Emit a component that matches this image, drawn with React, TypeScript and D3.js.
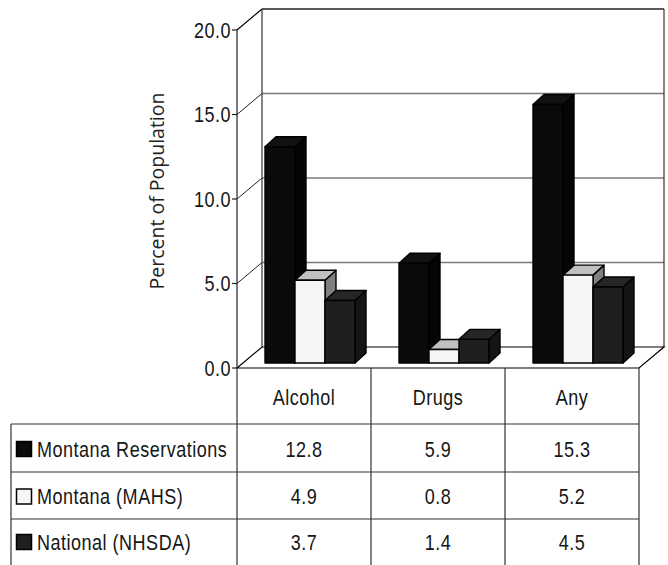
import React from "react";
import * as d3 from "d3";

// Prevalence data (percent of population)
const categories = ["Alcohol", "Drugs", "Any"];
const seriesNames = ["Montana Reservations", "Montana (MAHS)", "National (NHSDA)"];
const reservations = [12.8, 5.9, 15.3];
const mahs = [4.9, 0.8, 5.2];
const nhsda = [3.7, 1.4, 4.5];
const yTicks = [0, 5, 10, 15, 20];

const seriesValues = [reservations, mahs, nhsda];

// Face colours per series: front, top, side
const faceColors = [
  { front: "#0a0a0a", top: "#111", side: "#050505" },
  { front: "#f5f5f5", top: "#c0c0c0", side: "#808080" },
  { front: "#1f1f1f", top: "#262626", side: "#151515" },
];

const W = 668;
const H = 565;
const X0 = 237;
const X1 = 639;
const Y0 = 368;
const YTOP = 30;
const DX = 25; // depth of the plot box
const DY = -21;
const BAR_OFF_X = 6; // bars sit slightly inside the box depth
const BAR_OFF_Y = -5;
const BAR_DX = 11;
const BAR_DY = -10;

const FONT = "'Liberation Sans', Arial, sans-serif";
const FONT_SIZE = 22;
const SQUEEZE = 0.82; // horizontal condensing of the label font

const rowLines = [424, 472, 519];
const TABLE_LEFT = 11;

function pts(p: [number, number][]) {
  return p.map((d) => d.join(",")).join(" ");
}

type CTextProps = {
  x: number;
  y: number;
  anchor?: "start" | "middle" | "end";
  children: React.ReactNode;
};

// Condensed label: regular sans squeezed horizontally
function CText({ x, y, anchor = "start", children }: CTextProps) {
  return (
    <text
      transform={`translate(${x},${y}) scale(${SQUEEZE},1)`}
      textAnchor={anchor}
      dominantBaseline="central"
      fontFamily={FONT}
      fontSize={FONT_SIZE}
      letterSpacing={0.6}
      fill="#161616"
    >
      {children}
    </text>
  );
}

export default function App() {
  const y = d3.scaleLinear().domain([0, 20]).range([Y0, YTOP]);
  const xCat = d3.scaleBand<string>().domain(categories).range([X0, X1]).padding(0);
  const groupW = 90;
  const xSeries = d3
    .scaleBand<number>()
    .domain([0, 1, 2])
    .range([0, groupW])
    .padding(0);

  const bw = xCat.bandwidth();
  const colEdges = [...categories.map((c) => xCat(c)!), X1];

  const rowCenters = [0, 1, 2].map((i) =>
    i < 2 ? (rowLines[i] + rowLines[i + 1]) / 2 : (rowLines[2] + H) / 2 - 1
  );

  const bars: React.ReactNode[] = [];
  categories.forEach((cat, ci) => {
    seriesValues.forEach((vals, si) => {
      const v = vals[ci];
      const x = xCat(cat)! + (bw - groupW) / 2 + xSeries(si)! + BAR_OFF_X;
      const w = xSeries.bandwidth();
      const yb = Y0 + BAR_OFF_Y;
      const yt = y(v) + BAR_OFF_Y;
      const c = faceColors[si];
      bars.push(
        <g key={`${ci}-${si}`} stroke="#000" strokeWidth={1.4} strokeLinejoin="round">
          <polygon
            points={pts([
              [x + w, yb],
              [x + w + BAR_DX, yb + BAR_DY],
              [x + w + BAR_DX, yt + BAR_DY],
              [x + w, yt],
            ])}
            fill={c.side}
          />
          <polygon
            points={pts([
              [x, yt],
              [x + BAR_DX, yt + BAR_DY],
              [x + w + BAR_DX, yt + BAR_DY],
              [x + w, yt],
            ])}
            fill={c.top}
          />
          <rect x={x} y={yt} width={w} height={yb - yt} fill={c.front} />
        </g>
      );
    });
  });

  return (
    <svg
      width={W}
      height={H}
      style={{ position: "absolute", left: 0, top: 0, background: "#fff" }}
    >
      {/* back wall gridlines */}
      {yTicks.slice(1, -1).map((t) => (
        <g key={`g${t}`}>
          <line x1={X0 + DX} x2={X1 + DX} y1={y(t) + DY} y2={y(t) + DY} stroke="#7a7a7a" strokeWidth={1.5} />
          <line x1={X0} x2={X0 + DX} y1={y(t)} y2={y(t) + DY} stroke="#222" strokeWidth={1} />
        </g>
      ))}
      {/* box outline */}
      <line x1={X0} y1={y(20)} x2={X0 + DX} y2={y(20) + DY} stroke="#000" strokeWidth={1.2} />
      <line x1={X0 + DX} y1={y(20) + DY} x2={X1 + DX} y2={y(20) + DY} stroke="#222" strokeWidth={1.5} />
      <line x1={X0 + DX} y1={y(20) + DY} x2={X0 + DX} y2={Y0 + DY} stroke="#333" strokeWidth={1.2} />
      <line x1={X1 + DX} y1={y(20) + DY} x2={X1 + DX} y2={Y0 + DY} stroke="#333" strokeWidth={1.2} />
      {/* floor */}
      <polygon
        points={pts([
          [X0, Y0],
          [X0 + DX, Y0 + DY],
          [X1 + DX, Y0 + DY],
          [X1, Y0],
        ])}
        fill="#fff"
        stroke="#000"
        strokeWidth={1.2}
      />
      {bars}
      {/* front value axis */}
      <line x1={X0} x2={X0} y1={y(20)} y2={Y0} stroke="#222" strokeWidth={1.2} />
      {yTicks.map((t) => (
        <g key={`t${t}`}>
          <line x1={X0 - 5} x2={X0} y1={y(t)} y2={y(t)} stroke="#222" strokeWidth={1.2} />
          <CText x={X0 - 6} y={y(t)} anchor="end">
            {d3.format(".1f")(t)}
          </CText>
        </g>
      ))}
      <text
        transform={`translate(156,${(y(20) + Y0) / 2 - 8}) rotate(-90)`}
        textAnchor="middle"
        dominantBaseline="central"
        fontFamily="'Open Sans', sans-serif"
        fontSize={19.5}
        fill="#222"
      >
        Percent of Population
      </text>

      {/* data table */}
      <g stroke="#333" strokeWidth={1.2}>
        {colEdges.map((x, i) => (
          <line key={`c${i}`} x1={x} x2={x} y1={Y0} y2={H} />
        ))}
        {rowLines.map((ry, i) => (
          <line key={`r${i}`} x1={TABLE_LEFT} x2={X1} y1={ry} y2={ry} />
        ))}
        <line x1={TABLE_LEFT} x2={TABLE_LEFT} y1={rowLines[0]} y2={H} />
      </g>
      {categories.map((c) => (
        <CText key={`h${c}`} x={xCat(c)! + bw / 2} y={(Y0 + rowLines[0]) / 2 + 1} anchor="middle">
          {c}
        </CText>
      ))}
      {seriesNames.map((name, si) => (
        <g key={`s${si}`}>
          <rect
            x={16.5}
            y={rowCenters[si] - 6.5}
            width={15}
            height={15}
            fill={faceColors[si].front}
            stroke="#000"
            strokeWidth={1.5}
          />
          <CText x={37} y={rowCenters[si] + 1}>
            {name}
          </CText>
          {categories.map((c, ci) => (
            <CText key={`v${ci}`} x={xCat(c)! + bw / 2} y={rowCenters[si] + 1} anchor="middle">
              {d3.format(".1f")(seriesValues[si][ci])}
            </CText>
          ))}
        </g>
      ))}
    </svg>
  );
}
